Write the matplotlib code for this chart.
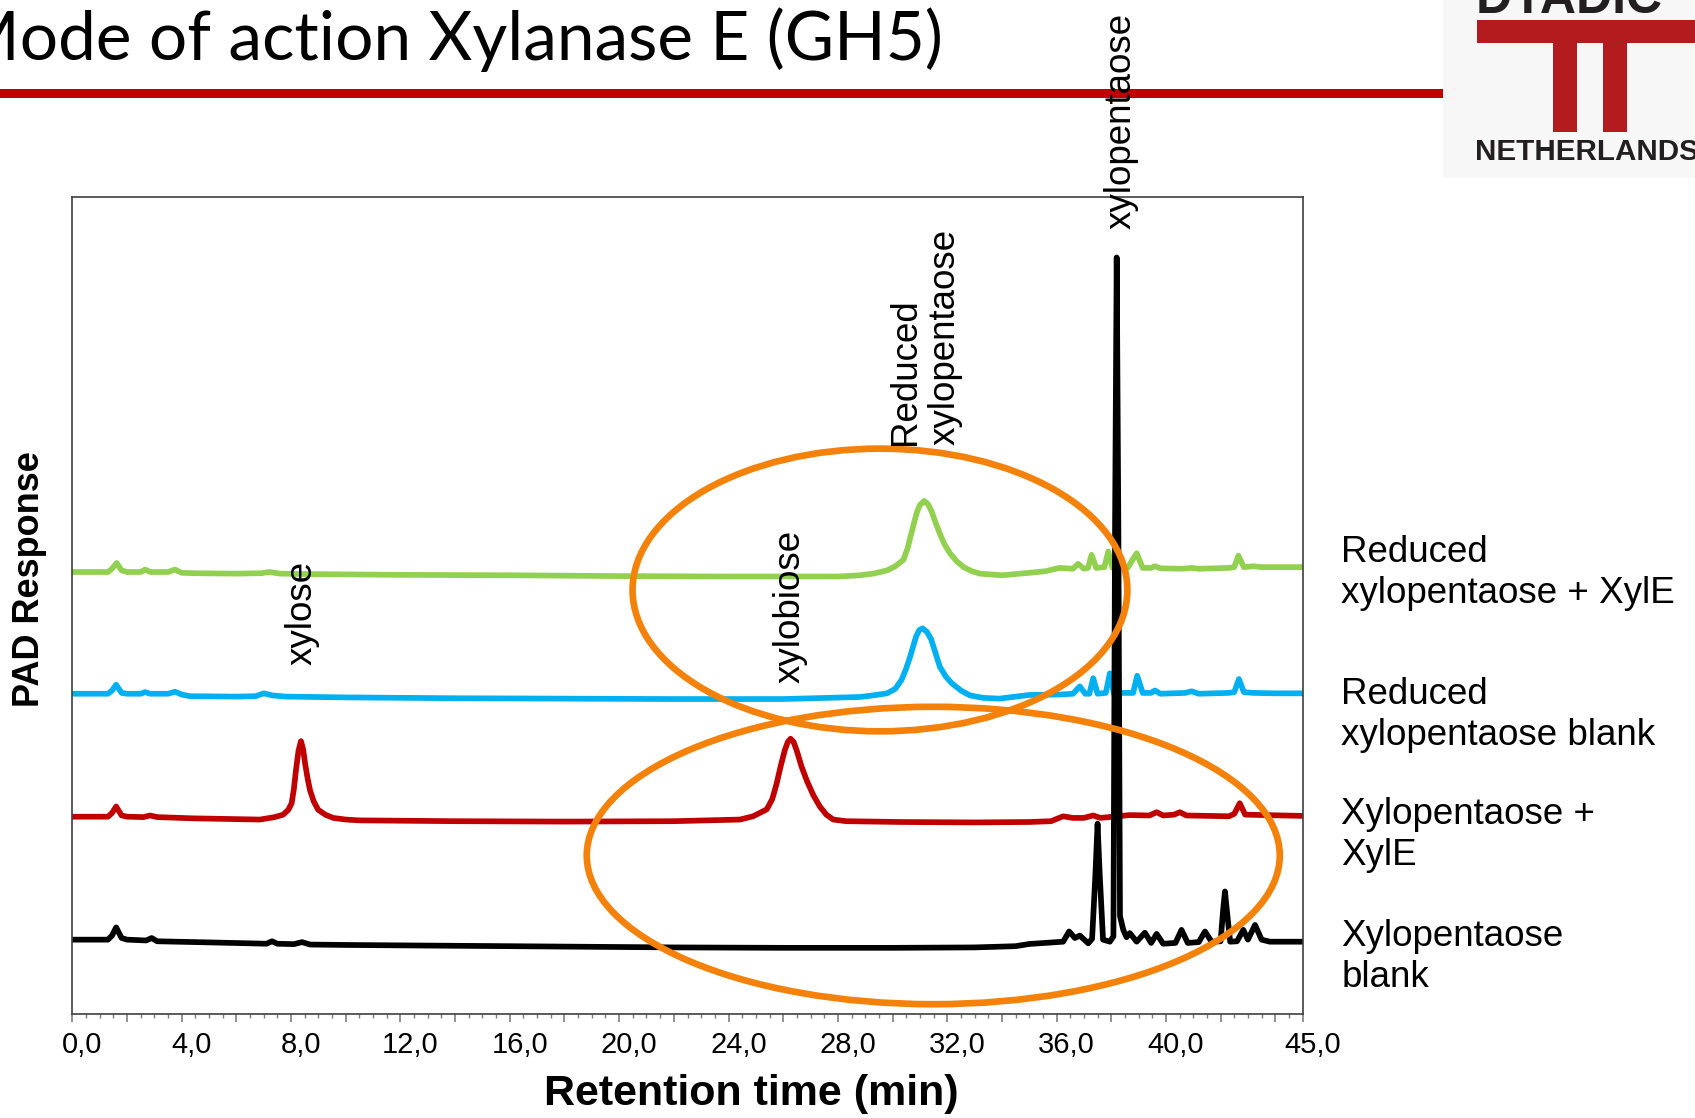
import numpy as np
import matplotlib
matplotlib.use('Agg')
import matplotlib.pyplot as plt
from matplotlib.patches import Ellipse, Rectangle
from matplotlib.transforms import ScaledTranslation

plt.rcParams['font.family'] = ['Liberation Sans', 'DejaVu Sans']

# retention time (min) and PAD response (arbitrary units, traces stacked)
green_t = [0, 1.3, 1.45, 1.62, 1.8, 2.0, 2.5, 2.66, 2.85, 3.5, 3.75, 4.0, 4.5, 6.0, 6.9, 7.2, 7.6, 8.5,
           12, 16, 20, 24, 28, 28.8, 29.3, 29.8, 30.1, 30.4, 30.55, 30.7, 30.88, 31.0, 31.16, 31.3, 31.43,
           31.58, 31.73, 31.9, 32.1, 32.35, 32.6, 32.9, 33.2, 34.0,
           35.0, 35.6, 36.1, 36.6, 36.79, 37.0, 37.15, 37.28, 37.45, 37.75, 37.89, 38.05, 38.2, 38.6, 38.93,
           39.15, 39.45, 39.6, 39.8, 40.6, 40.94, 41.2, 42.3, 42.5, 42.65, 42.85, 43.2, 43.5, 44.2, 45]
green_v = [54.1, 54.1, 54.5, 55.2, 54.3, 54.1, 54.1, 54.4, 54.1, 54.1, 54.4, 54.0, 53.95, 53.9, 53.95, 54.1, 53.9, 53.85,
           53.75, 53.7, 53.6, 53.55, 53.55, 53.7, 53.9, 54.3, 54.8, 55.6, 57.0, 59.0, 61.3, 62.3, 62.8, 62.4, 61.5,
           60.1, 58.8, 57.5, 56.4, 55.4, 54.7, 54.2, 53.9, 53.7,
           54.0, 54.2, 54.6, 54.5, 55.1, 54.5, 54.6, 56.2, 54.6, 54.7, 56.6, 54.6, 54.6, 54.6, 56.4,
           54.6, 54.6, 54.8, 54.55, 54.5, 54.6, 54.5, 54.6, 54.7, 56.1, 54.7, 54.8, 54.7, 54.7, 54.7]

blue_t = [0, 1.3, 1.45, 1.6, 1.8, 2.0, 2.5, 2.66, 2.85, 3.5, 3.75, 4.0, 4.3, 6.0, 6.7, 7.0, 7.3, 7.8,
          10, 14, 18, 22, 26, 28.8, 29.3, 29.8, 30.1, 30.33, 30.5, 30.64, 30.86, 30.98, 31.1, 31.25, 31.41,
          31.57, 31.73, 31.95, 32.16, 32.5, 32.83, 33.3, 33.9,
          35.0, 36.1, 36.6, 36.85, 37.05, 37.2, 37.34, 37.5, 37.8, 37.95, 38.1, 38.4, 38.8, 38.95, 39.15,
          39.45, 39.6, 39.8, 40.7, 40.94, 41.2, 42.3, 42.5, 42.67, 42.85, 43.2, 44, 45]
blue_v = [39.2, 39.2, 39.6, 40.3, 39.3, 39.2, 39.2, 39.4, 39.2, 39.2, 39.45, 39.1, 38.9, 38.85, 38.9, 39.25, 39.0, 38.85,
          38.75, 38.65, 38.6, 38.55, 38.55, 38.8, 39.0, 39.25, 39.8, 40.9, 42.3, 43.7, 46.2, 47.0, 47.2, 46.8, 45.9,
          44.2, 42.5, 41.3, 40.5, 39.6, 39.0, 38.7, 38.6,
          39.05, 39.1, 39.2, 40.1, 39.2, 39.2, 41.1, 39.2, 39.3, 41.7, 39.2, 39.3, 39.3, 41.4, 39.3,
          39.3, 39.6, 39.2, 39.3, 39.5, 39.2, 39.3, 39.4, 41.0, 39.4, 39.3, 39.25, 39.25]

red_t = [0, 1.3, 1.45, 1.6, 1.8, 2.0, 2.6, 2.84, 3.1, 4.4, 6.86, 7.4, 7.71, 7.9, 8.02, 8.1, 8.18, 8.27, 8.36,
         8.44, 8.51, 8.6, 8.69, 8.83, 8.99, 9.25, 9.54, 10.0,
         10.5, 14, 18, 22, 24.42, 24.9, 25.4, 25.6, 25.76, 25.92, 26.06, 26.17, 26.27, 26.38, 26.49, 26.67,
         26.86, 27.1, 27.34, 27.58, 27.83, 28.3, 30.3, 33, 35.0,
         35.8, 36.24, 36.6, 37.0, 37.34, 37.6, 38.68, 39.4, 39.66, 39.9, 40.3, 40.51, 40.75, 42.3, 42.5,
         42.7, 42.9, 43.56, 45]
red_v = [24.15, 24.15, 24.6, 25.4, 24.3, 24.15, 24.1, 24.3, 24.1, 23.95, 23.8, 24.1, 24.4, 25.0, 25.8, 27.5, 29.9, 32.2, 33.4,
         32.4, 30.7, 28.9, 27.4, 26.0, 25.0, 24.4, 24.0, 23.8,
         23.7, 23.6, 23.55, 23.6, 23.8, 24.2, 25.05, 26.3, 28.2, 30.5, 32.3, 33.3, 33.7, 33.3, 32.3, 30.3,
         28.6, 26.8, 25.4, 24.4, 23.8, 23.6, 23.5, 23.45, 23.5,
         23.6, 24.2, 24.0, 24.0, 24.3, 24.0, 24.35, 24.3, 24.7, 24.3, 24.4, 24.7, 24.3, 24.2, 24.5,
         25.8, 24.4, 24.35, 24.25]

black_t = [0, 1.3, 1.45, 1.6, 1.8, 2.0, 2.7, 2.9, 3.1, 4.5, 6.5, 7.1, 7.3, 7.5, 8.1, 8.4, 8.7,
           10, 14, 18, 22, 26, 30, 33, 34.5, 35.0, 36.24, 36.46, 36.67, 36.85, 37.16, 37.3, 37.42, 37.5,
           37.58, 37.7, 37.95, 38.08, 38.14, 38.2, 38.26, 38.32, 38.44, 38.56, 38.68, 38.93, 39.23, 39.46,
           39.66, 39.9, 40.35, 40.57, 40.8, 41.2, 41.43, 41.67, 42.0, 42.1, 42.16, 42.22, 42.35, 42.6,
           42.83, 43.0, 43.26, 43.5, 43.8, 45]
black_v = [9.1, 9.1, 9.6, 10.6, 9.3, 9.1, 9.0, 9.3, 8.9, 8.8, 8.65, 8.6, 8.9, 8.6, 8.55, 8.8, 8.5,
           8.45, 8.35, 8.25, 8.15, 8.1, 8.1, 8.15, 8.3, 8.57, 8.85, 10.1, 9.3, 9.6, 8.65, 9.2, 17, 23.3,
           17, 9.1, 8.85, 9.5, 60, 92.6, 60, 12, 10.3, 9.4, 9.9, 8.85, 9.95, 8.7,
           9.8, 8.6, 8.7, 10.3, 8.7, 8.8, 10.1, 8.85, 8.9, 13, 15.0, 13, 8.85, 8.9,
           10.3, 9.1, 10.9, 9.1, 8.85, 8.85]

trace_colors = ['#92D050', '#00B0F0', '#C00000', '#000000']
trace_labels = ['Reduced\nxylopentaose + XylE', 'Reduced\nxylopentaose blank',
                'Xylopentaose +\nXylE', 'Xylopentaose\nblank']
label_levels = [54.0, 36.6, 21.9, 7.0]

# peak names: (time, level, text, vertical alignment)
peak_names = [(8.4, 49.1, 'xylose', 'center'),
              (26.25, 49.9, 'xylobiose', 'center'),
              (31.2, 69.6, 'Reduced\nxylopentaose', 'bottom'),
              (38.35, 96.1, 'xylopentaose', 'bottom')]

# highlighted regions (center time, center level, width min, height)
circles = [(29.54, 51.9, 18.1, 34.6), (31.49, 19.4, 25.35, 36.4)]

tick_pos = [0, 4, 8, 12, 16, 20, 24, 28, 32, 36, 40, 45]
tick_txt = ['0,0', '4,0', '8,0', '12,0', '16,0', '20,0', '24,0', '28,0', '32,0', '36,0', '40,0', '45,0']
plain_ticks = [2, 6, 10, 14, 18, 22, 26, 30, 34, 38, 42, 44]

W, H = 1695, 1118
fig = plt.figure(figsize=(W / 100, H / 100), dpi=100)

# slide decoration in pixel coordinates
deco = fig.add_axes([0, 0, 1, 1], zorder=0)
deco.set_xlim(0, W)
deco.set_ylim(H, 0)
deco.axis('off')
deco.add_patch(Rectangle((0, 88.5), 1443, 9, color='#C00000', lw=0))
deco.add_patch(Rectangle((1443, 0), 252, 178, color='#F7F7F7', lw=0))
deco.add_patch(Rectangle((1477, 20), 218, 23, color='#B31B1F', lw=0))
deco.add_patch(Rectangle((1553, 43), 24, 89, color='#B31B1F', lw=0))
deco.add_patch(Rectangle((1603, 43), 24, 89, color='#B31B1F', lw=0))
deco.text(1476, 13, 'DYADIC', fontsize=36, fontweight='bold', color='#231F20', va='baseline', ha='left')
deco.text(1475, 160, 'NETHERLANDS', fontsize=21.3, fontweight='bold', color='#231F20', va='baseline', ha='left')
deco.text(943, 59.5, 'Mode of action Xylanase E (GH5)', fontsize=48.7, family='Lato', color='black',
          va='baseline', ha='right')

ax = fig.add_axes([72.4 / W, 1 - 1014 / H, 1230.2 / W, 817 / H], zorder=1)
ax.set_facecolor('none')

for t, v, c in [(green_t, green_v, trace_colors[0]), (blue_t, blue_v, trace_colors[1]),
                (red_t, red_v, trace_colors[2]), (black_t, black_v, trace_colors[3])]:
    ax.plot(t, v, color=c, lw=4.1, solid_joinstyle='round', solid_capstyle='round', zorder=2)

for cx, cy, w, h in circles:
    ax.add_patch(Ellipse((cx, cy), w, h, fill=False, edgecolor='#F4820A', lw=4.8, zorder=3, clip_on=False))

for x, y, s, va in peak_names:
    ax.text(x, y, s, rotation=90, fontsize=26.5, ha='center', va=va, multialignment='left',
            clip_on=False, zorder=4)

for lab, lev in zip(trace_labels, label_levels):
    ax.text(46.42, lev, lab, fontsize=26.5, ha='left', va='center', clip_on=False)

ax.set_xlim(0, 45)
ax.set_ylim(0, 100)
ax.set_yticks([])
major = sorted(tick_pos + plain_ticks)
lookup = dict(zip(tick_pos, tick_txt))
ax.set_xticks(major)
ax.set_xticklabels([lookup.get(p, '') for p in major], fontsize=21)
ax.set_xticks(np.arange(0, 45.01, 0.5), minor=True)
ax.tick_params(axis='x', which='major', length=6, width=1.2, color='#7F7F7F', pad=6)
ax.tick_params(axis='x', which='minor', length=3, width=1, color='#7F7F7F')
for lbl in ax.get_xticklabels():
    lbl.set_transform(lbl.get_transform() + ScaledTranslation(0.1, 0, fig.dpi_scale_trans))
for sp in ax.spines.values():
    sp.set_color('#404040')
    sp.set_linewidth(1.2)

fig.text(751 / W, 1 - 1094 / H, 'Retention time (min)', fontsize=31, fontweight='bold',
         ha='center', va='center')
fig.text(30 / W, 1 - 579.5 / H, 'PAD Response', fontsize=26, fontweight='bold', rotation=90,
         ha='center', va='center')

fig.savefig('out.png', dpi=100)
